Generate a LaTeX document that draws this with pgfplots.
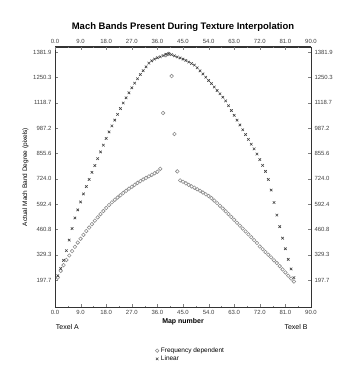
\documentclass[border=0pt]{standalone}
\usepackage{pgfplots}
\pgfplotsset{compat=1.18}
\usepackage{fontspec}
\setmainfont{Liberation Sans}
\pgfplotstableread{
x y
1 220
2 258
3 300
4 350
5 405
6 465
7 520
8 562
9 603
10 645
11 683
12 720
13 757
14 792
15 828
16 863
17 898
18 933
19 967
20 998
21 1028
22 1058
23 1088
24 1117
25 1144
26 1170
27 1196
28 1220
29 1243
30 1265
31 1285
32 1305
33 1324
34 1336
35 1345
36 1352
37 1357
38 1363
39 1370
40 1373
41 1368
42 1362
43 1356
44 1351
45 1345
46 1338
47 1330
48 1322
49 1314
50 1300
51 1284
52 1268
53 1251
54 1234
55 1218
56 1200
57 1182
58 1165
59 1147
60 1128
61 1103
62 1078
63 1053
64 1028
65 1003
66 978
67 953
68 928
69 903
70 879
71 852
72 823
73 793
74 762
75 720
76 665
77 600
78 535
79 475
80 415
81 360
82 305
83 255
84 210
}\lineartab
\pgfplotstableread{
x y
1 210
2 245
3 275
4 302
5 325
6 348
7 370
8 392
9 412
10 432
11 452
12 470
13 488
14 506
15 523
16 540
17 556
18 572
19 587
20 601
21 614
22 626
23 638
24 650
25 661
26 672
27 682
28 692
29 702
30 711
31 720
32 728
33 736
34 744
35 752
36 760
37 775
38 1065
39 1365
40 1372
41 1257
42 956
43 762
44 715
45 708
46 700
47 692
48 684
49 677
50 669
51 661
52 652
53 643
54 634
55 623
56 610
57 597
58 583
59 569
60 555
61 540
62 525
63 510
64 495
65 480
66 465
67 450
68 435
69 420
70 405
71 390
72 372
73 358
74 343
75 329
76 315
77 300
78 286
79 270
80 253
81 237
82 220
83 205
84 190
}\freqtab
\begin{document}
\begin{tikzpicture}[font=\fontsize{6}{7}\selectfont]
\useasboundingbox (-55bp,-60bp) rectangle (284bp,307bp);
\pgfplotsset{
  common/.style={
    width=256bp, height=260bp, scale only axis,
    at={(0,0)}, anchor=south west,
    xmin=0, xmax=90, ymin=57.5, ymax=1407.9,
    xtick={0,9,...,90},
    ytick={197.7,329.3,460.8,592.4,724.0,855.6,987.2,1118.7,1250.3,1381.9},
    yticklabels={197.7,329.3,460.8,592.4,724.0,855.6,987.2,1118.7,1250.3,1381.9},
    minor x tick num=1, minor y tick num=1,
    tick align=inside,
    xticklabel style={/pgf/number format/.cd,fixed,fixed zerofill,precision=1,assume math mode=true},
    tick label style={font=\fontsize{6}{7}\selectfont, color=black!75},
    major tick length=3bp, minor tick length=1.5bp,
  }
}
\begin{axis}[common,
  axis line style={black!80, line width=1pt},
  title={\bfseries\fontsize{9.5}{11}\selectfont Mach Bands Present During Texture Interpolation},
  title style={yshift=6bp},
  xlabel={\bfseries\fontsize{7}{8}\selectfont Map number},
  xlabel style={yshift=3bp},
  ylabel={\fontsize{6.5}{7}\selectfont Actual Mach Band Degree (pixels)},
  ylabel style={yshift=-2bp},
  legend style={at={(0.53,-0.14)}, anchor=north, draw=none, fill=none,
    font=\fontsize{6.5}{7}\selectfont, row sep=-2pt, legend cell align=left},
  clip=false,
]
\addplot[only marks, mark=o, mark size=1.8pt, color=black!45, line width=0.6pt] table[x=x,y=y] {\freqtab};
\addlegendentry{Frequency dependent}
\addplot[only marks, mark=x, mark size=1.8pt, color=black!75, line width=0.6pt] table[x=x,y=y] {\lineartab};
\addlegendentry{Linear}
\node[anchor=north west, font=\fontsize{7}{8}\selectfont] at (rel axis cs:-0.01,-0.055) {Texel A};
\node[anchor=north east, font=\fontsize{7}{8}\selectfont] at (rel axis cs:1.0,-0.055) {Texel B};
\end{axis}
\begin{axis}[common,
  axis x line*=top, axis y line*=right,
  axis line style={black!80, line width=1pt},
]
\end{axis}
\end{tikzpicture}
\end{document}
